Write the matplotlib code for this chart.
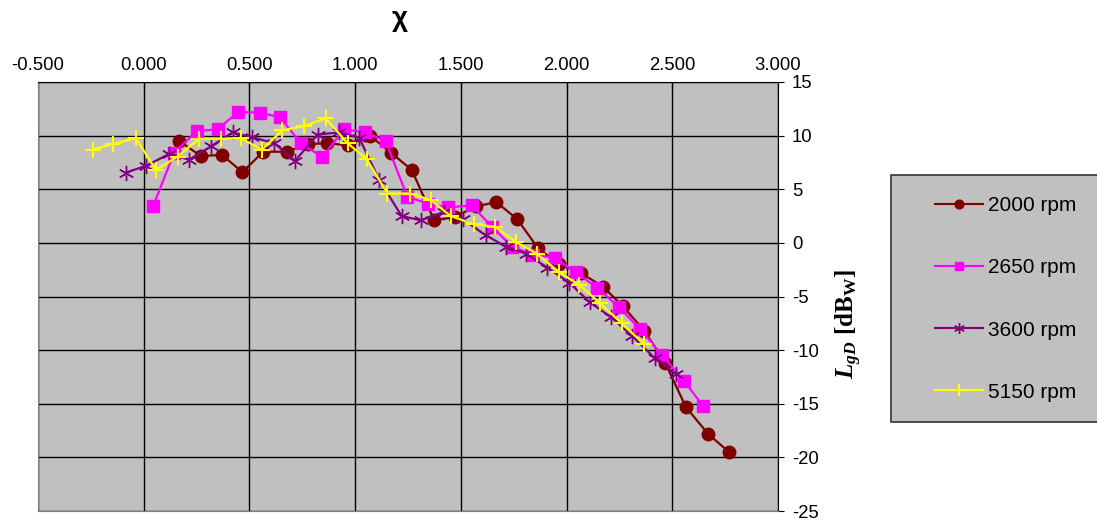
"""Lg_D vs chi for four engine speeds."""

import matplotlib

matplotlib.use("Agg")
import matplotlib.pyplot as plt  # noqa: E402
from matplotlib.patches import Rectangle  # noqa: E402

plt.rcParams["font.family"] = ["Liberation Sans", "DejaVu Sans"]
plt.rcParams["mathtext.fontset"] = "custom"
plt.rcParams["mathtext.rm"] = "Liberation Serif"
plt.rcParams["mathtext.it"] = "Liberation Serif:italic"
plt.rcParams["mathtext.bf"] = "Liberation Serif:bold"
plt.rcParams["mathtext.bfit"] = "Liberation Serif:bold:italic"

BG = "#c0c0c0"

x_2000 = [0.168, 0.270, 0.370, 0.467, 0.565, 0.677, 0.775, 0.869, 0.964, 1.070,
          1.170, 1.268, 1.374, 1.470, 1.571, 1.668, 1.767, 1.865, 1.965, 2.067,
          2.173, 2.266, 2.368, 2.467, 2.564, 2.669, 2.768]
y_2000 = [9.5, 8.1, 8.2, 6.6, 8.5, 8.5, 9.2, 9.3, 9.1, 10.0,
          8.4, 6.8, 2.1, 2.4, 3.4, 3.8, 2.2, -0.5, -2.0, -2.8,
          -4.1, -5.9, -8.2, -11.2, -15.3, -17.8, -19.5]

x_2650 = [0.045, 0.144, 0.250, 0.349, 0.447, 0.549, 0.645, 0.743, 0.845, 0.948,
          1.047, 1.144, 1.247, 1.344, 1.441, 1.552, 1.647, 1.744, 1.840, 1.943,
          2.043, 2.146, 2.248, 2.346, 2.450, 2.555, 2.645]
y_2650 = [3.45, 8.4, 10.4, 10.6, 12.2, 12.15, 11.7, 9.3, 8.0, 10.6,
          10.3, 9.5, 4.3, 3.65, 3.3, 3.5, 1.5, -0.4, -1.1, -1.4,
          -2.75, -4.2, -6.0, -8.0, -10.45, -12.85, -15.2]

x_3600 = [-0.084, 0.013, 0.121, 0.215, 0.318, 0.420, 0.513, 0.617, 0.716, 0.822,
          0.924, 1.019, 1.113, 1.220, 1.311, 1.420, 1.510, 1.618, 1.713, 1.807,
          1.909, 2.012, 2.110, 2.209, 2.311, 2.417, 2.516]
y_3600 = [6.55, 7.2, 8.3, 7.75, 9.0, 10.3, 9.85, 9.3, 7.65, 10.1,
          10.3, 9.8, 5.9, 2.5, 2.1, 2.9, 2.2, 0.7, -0.35, -1.0,
          -2.3, -3.7, -5.55, -6.9, -8.7, -10.75, -12.2]

x_5150 = [-0.242, -0.147, -0.037, 0.058, 0.160, 0.262, 0.365, 0.460, 0.559, 0.656,
          0.759, 0.861, 0.964, 1.055, 1.153, 1.259, 1.358, 1.452, 1.560, 1.661,
          1.760, 1.858, 1.963, 2.059, 2.160, 2.261, 2.364]
y_5150 = [8.7, 9.2, 9.75, 6.8, 8.05, 9.7, 9.7, 9.75, 8.7, 10.5,
          10.9, 11.6, 9.3, 7.8, 4.6, 4.6, 4.0, 2.5, 1.75, 1.5,
          0.1, -1.0, -2.7, -3.9, -5.65, -7.5, -9.4]

x_ticks = [-0.5, 0.0, 0.5, 1.0, 1.5, 2.0, 2.5, 3.0]
y_ticks = [15, 10, 5, 0, -5, -10, -15, -20, -25]

series = [
    ("2000 rpm", x_2000, y_2000, "#800000", "o", 9, 1.0),
    ("2650 rpm", x_2650, y_2650, "#ff00ff", "s", 8, 1.0),
    ("3600 rpm", x_3600, y_3600, "#800080", (6, 2, 0), 11, 1.0),
    ("5150 rpm", x_5150, y_5150, "#ffff00", "+", 12, 1.5),
]

fig = plt.figure(figsize=(10.97, 5.21), dpi=100)
ax = fig.add_axes([38 / 1097, 10 / 521, 740 / 1097, 429 / 521])
ax.set_facecolor(BG)

handles = []
for label, xs, ys, color, marker, ms, mew in series:
    (line,) = ax.plot(xs, ys, color=color, marker=marker, markersize=ms,
                      markeredgewidth=mew, markeredgecolor=color,
                      linewidth=1.6, label=label, clip_on=False)
    handles.append(line)

ax.set_xlim(-0.5, 3.0)
ax.set_ylim(-25, 15)
ax.set_xticks(x_ticks, [f"{v:.3f}" for v in x_ticks])
ax.set_yticks(y_ticks, [str(v) for v in y_ticks])
ax.xaxis.tick_top()
ax.yaxis.tick_right()
ax.tick_params(axis="x", direction="in", length=5, width=0.8, labelsize=13.3, pad=6)
ax.tick_params(axis="y", direction="out", length=4, width=0.8, labelsize=13.3, pad=6)
ax.grid(True, color="black", linewidth=1.0)
ax.set_axisbelow(True)
for side in ("top", "right"):
    ax.spines[side].set_color("black")
for side in ("left", "bottom"):
    ax.spines[side].set_color("#808080")

fig.text(400 / 1097, 1 - 19 / 521, "χ", ha="center", va="center",
         fontsize=20, fontweight="bold")
fig.text(849 / 1097, 1 - 324 / 521,
         r"$\mathbfit{L}_{\mathbfit{gD}}$ $\mathbf{[dB}_{\mathbf{W}}\mathbf{]}$",
         rotation=90, ha="center", va="center", fontsize=18)

fig.patches.append(Rectangle((891 / 1097, 1 - 422 / 521), 0.3, 247 / 521,
                             transform=fig.transFigure, facecolor=BG,
                             edgecolor="#333333", linewidth=1.2, zorder=0))
leg = fig.legend(handles=handles, loc="center left",
                 bbox_to_anchor=(925 / 1097, 1 - 299 / 521),
                 frameon=False, fontsize=15, borderpad=0, labelspacing=2.07,
                 handlelength=2.3, handletextpad=0.2, markerscale=0.7)
for h in leg.legend_handles:
    h.set_linewidth(1.5)

fig.savefig("out.png", dpi=100, facecolor="white")
